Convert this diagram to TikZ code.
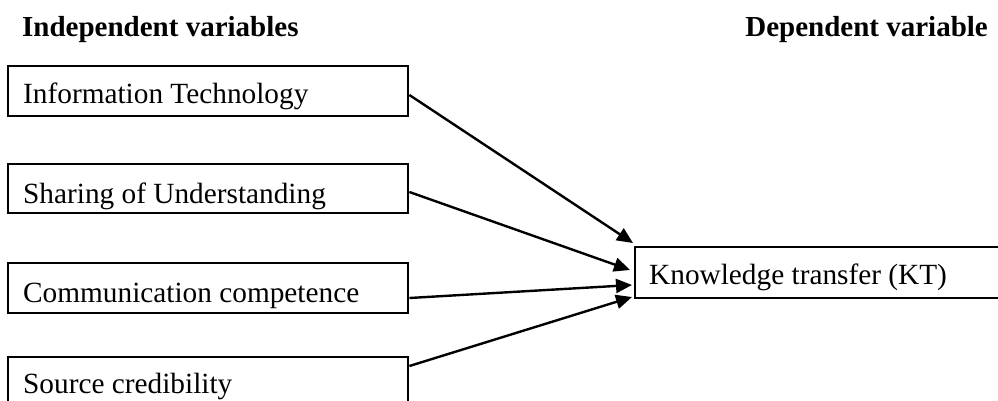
\documentclass[tikz,border=0pt]{standalone}
\usepackage{fontspec}
\setmainfont{Liberation Serif}
\usetikzlibrary{arrows.meta}
\begin{document}
\begin{tikzpicture}[x=1pt,y=-1pt,
  box/.style={draw=black, line width=2.4pt, rectangle, inner sep=0pt, anchor=north west},
  lbl/.style={inner sep=0pt, anchor=base west, font=\fontsize{29.3}{34}\selectfont},
  head/.style={inner sep=0pt, anchor=base west, font=\fontsize{29}{34}\selectfont\bfseries},
  arr/.style={line width=2.4pt, -{Triangle[length=16pt,width=14pt]}}]
\useasboundingbox (0,0) rectangle (998,400);
\clip (0,0) rectangle (998,400);
\node[head] (hi) at (22,36) {Independent variables};
\node[head, anchor=base east] (hd) at (988,36) {Dependent variable};
\node[box, minimum width=400pt, minimum height=50pt] (b1) at (7,65) {};
\node[box, minimum width=400pt, minimum height=49pt] (b2) at (7,163) {};
\node[box, minimum width=400pt, minimum height=50pt] (b3) at (7,262) {};
\node[box, minimum width=400pt, minimum height=60pt] (b4) at (7,356) {};
\node[box, minimum width=400pt, minimum height=51pt] (kt) at (634,246) {};
\node[lbl] (t1) at (23,103) {Information Technology};
\node[lbl] (t2) at (23,203) {Sharing of Understanding};
\node[lbl] (t3) at (23,302) {Communication competence};
\node[lbl] (t4) at (23,393) {Source credibility};
\node[lbl] (t5) at (649,284) {Knowledge transfer (KT)};
\draw[arr] ([yshift=-30pt]b1.north east) -- ([shift={(-1pt,3pt)}]kt.north west);
\draw[arr] ([yshift=-29pt]b2.north east) -- ([shift={(-4pt,-24pt)}]kt.north west);
\draw[arr] ([yshift=-36pt]b3.north east) -- ([shift={(-2pt,-39pt)}]kt.north west);
\draw[arr] ([yshift=-10pt]b4.north east) -- ([shift={(-2pt,-51pt)}]kt.north west);
\end{tikzpicture}
\end{document}
